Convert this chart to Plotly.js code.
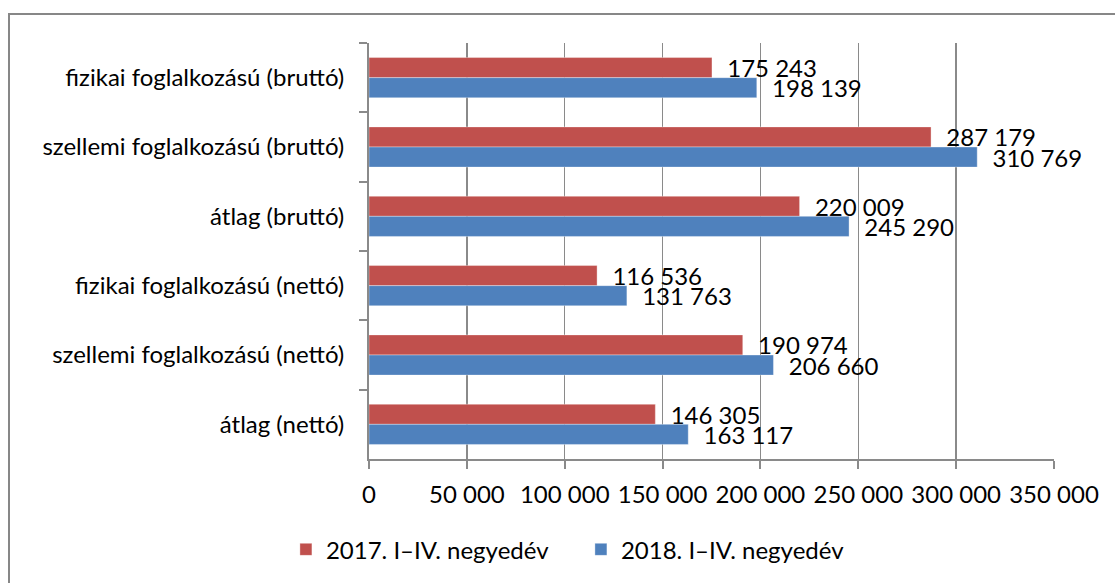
<!DOCTYPE html>
<html>
<head>
<meta charset="utf-8">
<script src="https://cdn.plot.ly/plotly-3.0.1.min.js"></script>
<style>
  html, body { margin: 0; padding: 0; background: #fff; }
  #wrap { position: relative; width: 1115px; height: 583px; overflow: hidden; }
  #frame { position: absolute; left: 8px; top: 13px; width: 1200px; height: 700px;
           border-top: 2px solid #878787; border-left: 2px solid #878787; }
  #chart { position: absolute; left: 0; top: 0; width: 1115px; height: 583px; }
</style>
</head>
<body>
<div id="wrap">
  <div id="frame"></div>
  <div id="chart"></div>
</div>
<script>
const categories = [
  'fizikai foglalkozású (bruttó)',
  'szellemi foglalkozású (bruttó)',
  'átlag (bruttó)',
  'fizikai foglalkozású (nettó)',
  'szellemi foglalkozású (nettó)',
  'átlag (nettó)'
];
const series2017Name = '2017. I–IV. negyedév';
const series2018Name = '2018. I–IV. negyedév';
const values2017 = [175243, 287179, 220009, 116536, 190974, 146305];
const values2018 = [198139, 310769, 245290, 131763, 206660, 163117];
const xTicks = [0, 50000, 100000, 150000, 200000, 250000, 300000, 350000];

const FONT = 'Lato, "Liberation Sans", sans-serif';
const FS = 24;

const common = {
  type: 'bar',
  orientation: 'h',
  y: categories,
  textposition: 'outside',
  texttemplate: '\u00a0\u00a0%{x:,d}',
  textfont: {family: FONT, size: FS, color: '#000'},
  constraintext: 'none',
  cliponaxis: false,
  hoverinfo: 'skip'
};

const traces = [
  Object.assign({}, common, {
    name: series2017Name, x: values2017,
    marker: {color: '#C0504D', line: {color: 'rgba(255,255,255,0.35)', width: 1}}
  }),
  Object.assign({}, common, {
    name: series2018Name, x: values2018,
    marker: {color: '#4F81BD', line: {color: 'rgba(255,255,255,0.35)', width: 1}}
  })
];

const layout = {
  width: 1115, height: 583,
  margin: {l: 369, r: 61, t: 43, b: 124},
  paper_bgcolor: 'rgba(0,0,0,0)',
  plot_bgcolor: 'rgba(0,0,0,0)',
  separators: ', ',
  font: {family: FONT, size: FS, color: '#000'},
  barmode: 'group',
  bargap: 0.42,
  bargroupgap: 0,
  showlegend: true,
  legend: {
    orientation: 'h',
    xref: 'container', yref: 'container',
    x: 0.521, xanchor: 'center',
    y: 0.057, yanchor: 'middle',
    entrywidth: 250,
    font: {family: FONT, size: FS, color: '#000'},
    itemclick: false, itemdoubleclick: false
  },
  xaxis: {
    range: [0, 350000],
    tickvals: xTicks,
    tickformat: ',d',
    showgrid: true, gridcolor: '#8a8a8a', gridwidth: 1.5,
    zeroline: false,
    showline: true, linecolor: '#8a8a8a', linewidth: 2,
    ticks: 'outside', ticklen: 8, tickcolor: '#8a8a8a', tickwidth: 2,
    ticklabelstandoff: 5,
    fixedrange: true
  },
  yaxis: {
    type: 'category',
    autorange: 'reversed',
    tickson: 'boundaries',
    showgrid: false,
    zeroline: false,
    showline: true, linecolor: '#8a8a8a', linewidth: 2,
    ticks: 'outside', ticklen: 8, tickcolor: '#8a8a8a', tickwidth: 2,
    ticklabelstandoff: 18,
    fixedrange: true
  }
};

Plotly.newPlot('chart', traces, layout, {displayModeBar: false, staticPlot: true});
</script>
</body>
</html>
